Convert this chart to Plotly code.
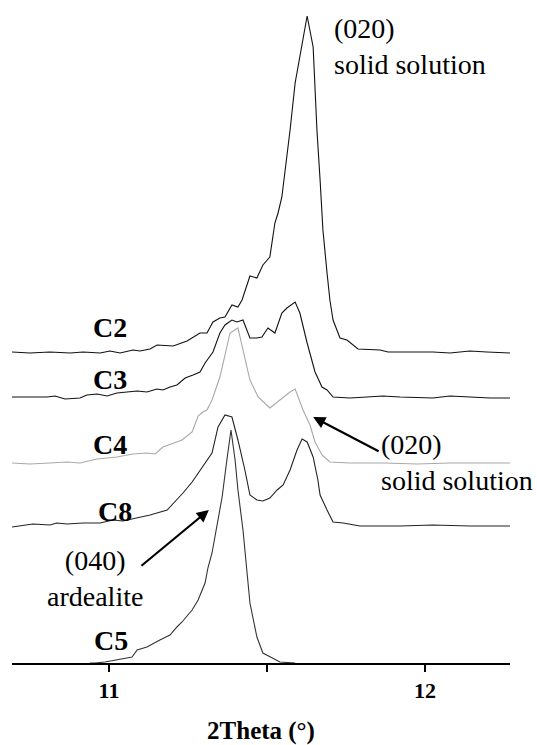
import plotly.graph_objects as go

# ---- data (2Theta in degrees, intensity in arbitrary units incl. stacking offset) ----
c2_theta = [10.693, 10.750, 10.813, 10.877, 10.918, 10.972, 11.003, 11.035, 11.076, 11.098,
            11.130, 11.152, 11.203, 11.247, 11.288, 11.310, 11.329, 11.351, 11.367, 11.389,
            11.408, 11.421, 11.446, 11.468, 11.487, 11.509, 11.525, 11.535, 11.547, 11.557,
            11.566, 11.573, 11.589, 11.627, 11.646, 11.658, 11.668, 11.677, 11.690, 11.699,
            11.709, 11.731, 11.753, 11.788, 11.858, 11.883, 11.953, 12.025, 12.079, 12.142,
            12.196, 12.269]
c2_int = [311, 310, 311, 310, 311, 310, 312, 310, 313, 312,
          314, 318, 317, 322, 330, 330, 341, 345, 346, 358,
          356, 363, 387, 385, 398, 406, 440, 450, 466, 490,
          516, 533, 580, 647, 616, 533, 483, 433, 390, 363,
          343, 325, 323, 314, 313, 311, 311, 311, 310, 312,
          311, 310]

c3_theta = [10.693, 10.759, 10.804, 10.829, 10.861, 10.908, 10.930, 10.962, 10.994, 11.025,
            11.066, 11.089, 11.120, 11.152, 11.171, 11.193, 11.215, 11.241, 11.266, 11.288,
            11.304, 11.329, 11.351, 11.367, 11.389, 11.405, 11.424, 11.446, 11.468, 11.484,
            11.503, 11.525, 11.547, 11.563, 11.589, 11.604, 11.627, 11.652, 11.674, 11.690,
            11.709, 11.763, 11.816, 11.867, 11.921, 12.025, 12.079, 12.133, 12.206, 12.269]
c3_int = [266, 266, 266, 267, 264, 265, 268, 269, 267, 270,
          271, 272, 271, 274, 273, 276, 278, 285, 288, 291,
          300, 311, 330, 338, 343, 341, 343, 325, 325, 326,
          335, 330, 350, 355, 361, 350, 320, 291, 276, 273,
          266, 265, 266, 267, 266, 265, 267, 266, 265, 265]

c4_theta = [10.693, 10.750, 10.813, 10.867, 10.908, 10.962, 11.025, 11.076, 11.120, 11.146,
            11.171, 11.203, 11.231, 11.263, 11.282, 11.297, 11.310, 11.326, 11.351, 11.383,
            11.408, 11.446, 11.472, 11.509, 11.541, 11.573, 11.589, 11.614, 11.636, 11.652,
            11.674, 11.699, 11.763, 11.867, 11.975, 12.079, 12.269]
c4_int = [200, 199, 200, 201, 200, 204, 206, 209, 210, 209,
          216, 220, 223, 231, 247, 251, 253, 263, 286, 330,
          335, 283, 266, 255, 263, 271, 274, 253, 238, 221,
          208, 201, 200, 200, 199, 200, 200]

c8_theta = [10.693, 10.759, 10.813, 10.835, 10.867, 10.918, 10.972, 11.013, 11.044, 11.089,
            11.130, 11.184, 11.215, 11.234, 11.263, 11.288, 11.326, 11.345, 11.367, 11.389,
            11.408, 11.430, 11.446, 11.468, 11.487, 11.509, 11.532, 11.551, 11.573, 11.595,
            11.611, 11.627, 11.646, 11.661, 11.668, 11.690, 11.709, 11.741, 11.794, 11.921,
            12.025, 12.142, 12.269]
c8_int = [136, 139, 138, 140, 139, 140, 140, 143, 142, 145,
          148, 153, 163, 170, 181, 193, 210, 236, 248, 246,
          223, 193, 168, 163, 162, 165, 173, 178, 193, 213,
          224, 221, 206, 183, 168, 153, 141, 140, 137, 137,
          138, 137, 137]

c5_theta = [10.940, 10.956, 10.987, 11.073, 11.089, 11.120, 11.161, 11.193, 11.215, 11.231,
            11.263, 11.282, 11.304, 11.313, 11.326, 11.335, 11.345, 11.358, 11.373, 11.386,
            11.399, 11.408, 11.424, 11.437, 11.446, 11.468, 11.487, 11.541, 11.589]
c5_int = [0, 0, 1, 6, 13, 16, 23, 28, 36, 41,
          53, 63, 80, 95, 110, 126, 143, 166, 203, 233,
          203, 173, 133, 93, 60, 26, 10, 1, 0]

sample_names = ["C2", "C3", "C4", "C8", "C5"]
label_theta = [11.003, 11.003, 11.003, 11.019, 11.006]
label_int = [336, 284, 219, 152, 23]

tick_vals = [11, 11.5, 12]
tick_text = ["11", "", "12"]

FONT = "Liberation Serif"

fig = go.Figure()
series = [
    (c2_theta, c2_int, "#111111"),
    (c3_theta, c3_int, "#111111"),
    (c4_theta, c4_int, "#a8a8a8"),
    (c8_theta, c8_int, "#222222"),
    (c5_theta, c5_int, "#333333"),
]
for (xs, ys, col), name in zip(series, sample_names):
    fig.add_trace(go.Scatter(x=xs, y=ys, mode="lines", name=name,
                             line=dict(color=col, width=1.1), showlegend=False))

for name, lx, ly in zip(sample_names, label_theta, label_int):
    fig.add_annotation(x=lx, y=ly, text="<b>" + name + "</b>", showarrow=False,
                       font=dict(family=FONT, size=28, color="black"),
                       xanchor="center", yanchor="middle")

fig.add_annotation(x=11.706, y=617, text="(020)<br>solid solution", showarrow=False,
                   align="left", xanchor="left", yanchor="middle",
                   font=dict(family=FONT, size=28, color="black"))
fig.add_annotation(x=11.855, y=201, text="(020)<br>solid solution", showarrow=False,
                   align="left", xanchor="left", yanchor="middle",
                   font=dict(family=FONT, size=28, color="black"))
fig.add_annotation(x=10.956, y=85, text="(040)<br>ardealite", showarrow=False,
                   align="center", xanchor="center", yanchor="middle",
                   font=dict(family=FONT, size=28, color="black"))

# arrows
fig.add_annotation(x=11.646, y=246, ax=11.858, ay=211, xref="x", yref="y",
                   axref="x", ayref="y", text="", showarrow=True,
                   arrowhead=2, arrowsize=1.1, arrowwidth=2.2, arrowcolor="black")
fig.add_annotation(x=11.316, y=153, ax=11.098, ay=96, xref="x", yref="y",
                   axref="x", ayref="y", text="", showarrow=True,
                   arrowhead=2, arrowsize=1.1, arrowwidth=2.2, arrowcolor="black")

fig.update_xaxes(range=[10.693, 12.269], showgrid=False, zeroline=False,
                 showline=True, linecolor="black", linewidth=2,
                 ticks="outside", ticklen=7, tickwidth=2, tickcolor="black",
                 tickvals=tick_vals, ticktext=tick_text,
                 tickfont=dict(family=FONT, size=22, color="black", weight="bold"),
                 title=dict(text="<b>2Theta (°)</b>", standoff=22,
                            font=dict(family=FONT, size=25, color="black")))
fig.update_yaxes(range=[0, 663], visible=False, showgrid=False, zeroline=False)

fig.update_layout(width=537, height=745, margin=dict(l=12, r=27, t=0, b=82),
                  plot_bgcolor="white", paper_bgcolor="white",
                  font=dict(family=FONT))

fig.write_html("out.html")
